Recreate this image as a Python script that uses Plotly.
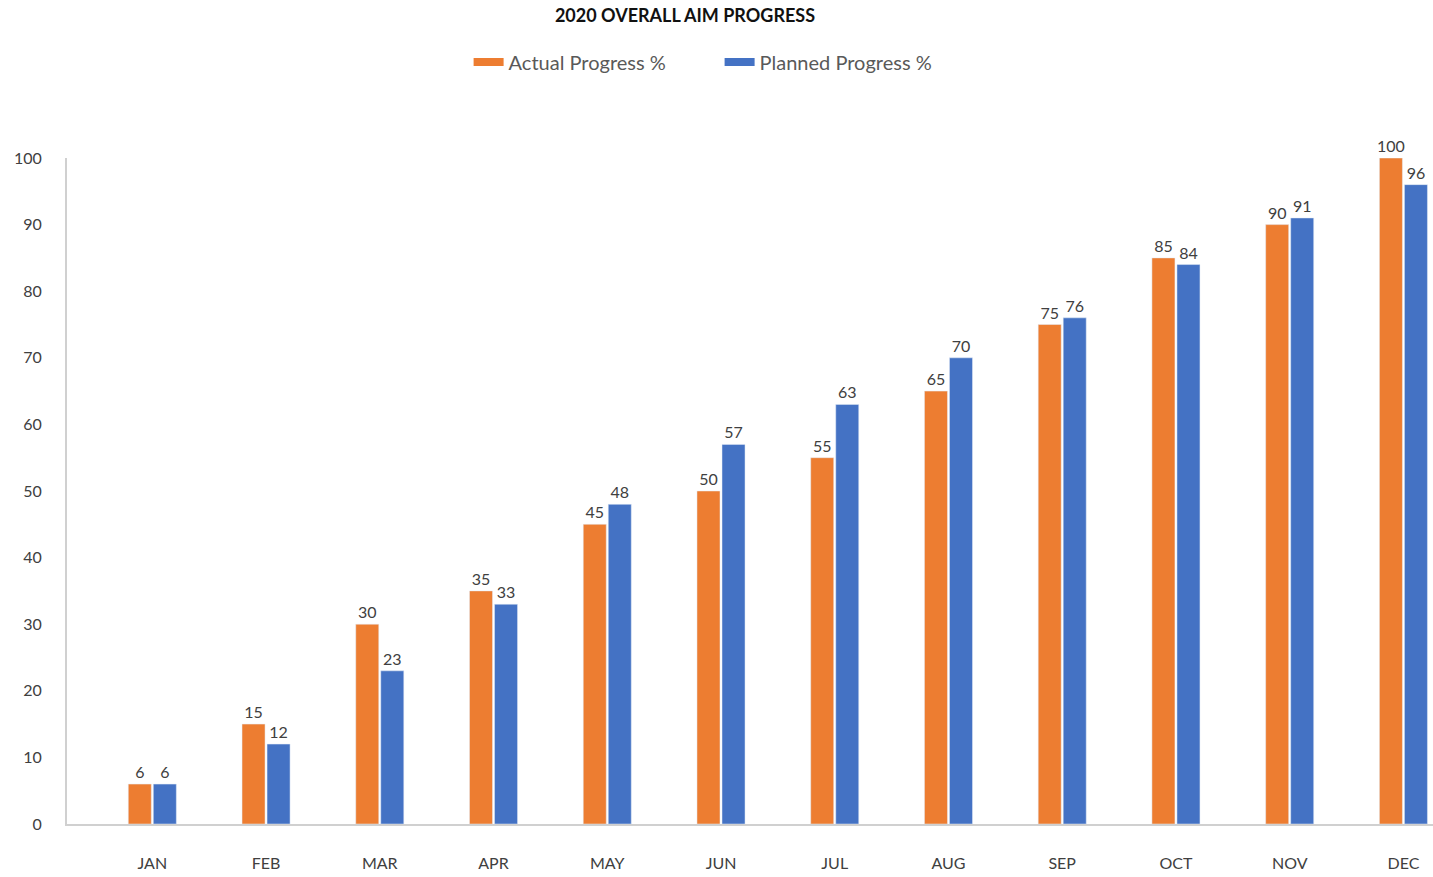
import plotly.graph_objects as go

months = ["JAN", "FEB", "MAR", "APR", "MAY", "JUN", "JUL", "AUG", "SEP", "OCT", "NOV", "DEC"]
actual = [6, 15, 30, 35, 45, 50, 55, 65, 75, 85, 90, 100]
planned = [6, 12, 23, 33, 48, 57, 63, 70, 76, 84, 91, 96]
y_ticks = [0, 10, 20, 30, 40, 50, 60, 70, 80, 90, 100]

FONT = "Lato, 'Open Sans', sans-serif"
TXT = "#404040"
ORANGE = "#ED7D31"
BLUE = "#4472C4"

fig = go.Figure()
fig.add_trace(go.Bar(name="Actual Progress %", x=months, y=actual, marker_color=ORANGE,
                     text=actual, textposition="outside", cliponaxis=False, showlegend=False,
                     constraintext="none",
                     textfont=dict(size=16, color=TXT, family=FONT)))
fig.add_trace(go.Bar(name="Planned Progress %", x=months, y=planned, marker_color=BLUE,
                     text=planned, textposition="outside", cliponaxis=False, showlegend=False,
                     constraintext="none",
                     textfont=dict(size=16, color=TXT, family=FONT)))
# legend entries drawn as wide swatches
fig.add_trace(go.Scatter(name="Actual Progress %", x=[None], y=[None], mode="lines",
                         line=dict(color=ORANGE, width=8)))
fig.add_trace(go.Scatter(name="Planned Progress %", x=[None], y=[None], mode="lines",
                         line=dict(color=BLUE, width=8)))

fig.update_layout(
    width=1433, height=877,
    margin=dict(l=67, r=0, t=158, b=53),
    plot_bgcolor="white", paper_bgcolor="white",
    barmode="group", bargap=0.56, bargroupgap=0.08,
    font=dict(family=FONT, color=TXT),
    title=dict(text="<b>2020 OVERALL AIM PROGRESS</b>", x=0.478, xanchor="center",
               y=0.982, yanchor="middle", font=dict(size=18, color="#111111", family=FONT)),
    legend=dict(orientation="h", x=0.294, xanchor="left", y=1.144, yanchor="middle",
                font=dict(size=20, color="#595959", family=FONT), itemwidth=30,
                traceorder="normal", entrywidth=206),
)
fig.update_xaxes(range=[-0.75, 11.26], showline=True, linecolor="#d0d0d0", linewidth=2,
                 showgrid=False, ticks="", ticklabelstandoff=24,
                 tickfont=dict(size=16, color=TXT, family=FONT))
fig.update_yaxes(range=[0, 100], tickvals=y_ticks, showline=True, linecolor="#d0d0d0", linewidth=2,
                 showgrid=False, zeroline=False, ticks="", ticklabelstandoff=20,
                 tickfont=dict(size=16, color=TXT, family=FONT))

fig.write_html("out.html", config={"displayModeBar": False},
               post_script="document.body.style.margin='0';")
